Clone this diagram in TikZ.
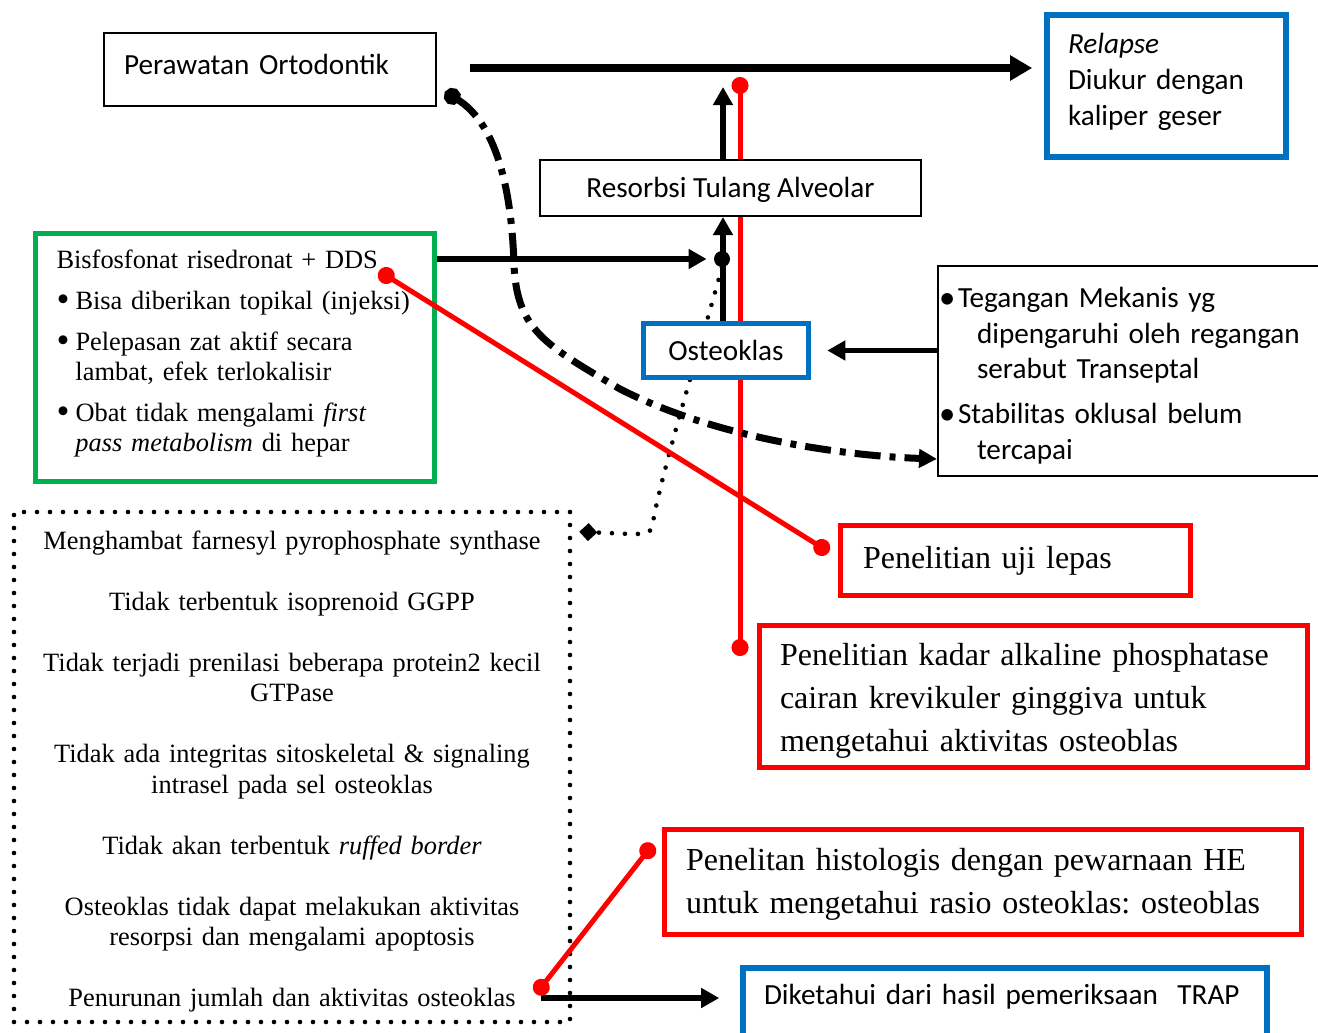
\documentclass[tikz,border=0pt]{standalone}
\usepackage{fontspec}
\setmainfont{Liberation Serif}
\setsansfont{Carlito}
\usetikzlibrary{arrows.meta,calc,backgrounds}

\definecolor{boxblue}{HTML}{0070C0}
\definecolor{boxgreen}{HTML}{00B050}
\definecolor{boxred}{HTML}{FF0000}

\newcommand{\bigbul}{\raisebox{-0.9pt}{\scalebox{1.4}{\textbullet}}}
\newcommand{\sfbul}{\hspace*{-0.5pt}\raisebox{-0.4pt}{\scalebox{1.12}{\textbullet}}}

\begin{document}
\frenchspacing
\begin{tikzpicture}[x=0.5pt,y=-0.5pt,
        plainbox/.style={draw, line width=1pt, fill=white, inner ysep=0pt, font={\sffamily\fontsize{14.6}{17.75}\selectfont}},
        bluebox/.style={draw=boxblue, line width=2.8pt, fill=white, font={\sffamily\fontsize{14.6}{18}\selectfont}},
        greenbox/.style={draw=boxgreen, line width=2.5pt, fill=white},
        redbox/.style={draw=boxred, line width=2.5pt, fill=white, align=left, font={\fontsize{16}{21.5}\selectfont}},
        dotbox/.style={draw, line width=2.3pt, dash pattern=on 0pt off 6.5pt, line cap=round},
        arr/.style={line width=2.6pt, -{Triangle[length=9pt,width=9.5pt]}},
        bigarr/.style={line width=4pt, -{Triangle[length=11pt,width=12pt]}},
        redline/.style={draw=boxred, line width=2.5pt, {Circle[length=8.5pt]}-{Circle[length=8.5pt]}},
        dashdot/.style={line width=3.5pt, dash pattern=on 13pt off 4.5pt on 3pt off 4.5pt, {Circle[length=8.5pt]}-{Triangle[length=9pt,width=9pt]}},
        dotline/.style={line width=2.3pt, dash pattern=on 0pt off 6.5pt, line cap=round, -{Diamond[length=9pt,width=9pt]}}
    ]

        \useasboundingbox (0,0) rectangle (1318,1033);

        % Boxes
        \node[plainbox, minimum width=166pt, text width=146pt, inner xsep=10pt, text height=20.5pt, text depth=16pt, align=left] (perawatan) at (270,69.5) {Perawatan Ortodontik};
        \node[bluebox, minimum width=119.5pt, minimum height=71pt, text width=98.5pt, inner xsep=10.5pt, align=left] (relapse) at (1166.5,86) {\textit{Relapse}\\Diukur dengan\\kaliper geser\rule[-7pt]{0pt}{7pt}};
        \node[plainbox, minimum width=190.5pt, minimum height=28pt, align=center] (resorbsi) at (730.5,188) {\rule{0pt}{12.5pt}Resorbsi Tulang Alveolar};
        \node[bluebox, minimum width=82.5pt, minimum height=27pt, inner sep=0pt] (osteo) at (726,350.5) {Osteoklas};
        \node[circle, fill, inner sep=0pt, minimum size=8pt] (bisdot) at (722,259) {};

        \node[greenbox, minimum width=199.5pt, minimum height=124pt, text width=178.5pt, inner xsep=10.5pt, align=left, font={\fontsize{13.2}{15}\selectfont}] (green) at (235,357.5) {%
            Bisfosfonat risedronat + DDS\\[5.5pt]
            \makebox[9.5pt][l]{\bigbul}Bisa diberikan topikal (injeksi)\\[5.5pt]
            \makebox[9.5pt][l]{\bigbul}Pelepasan zat aktif secara\\
            \hspace*{9.5pt}lambat, efek terlokalisir\\[5.5pt]
            \makebox[9.5pt][l]{\bigbul}Obat tidak mengalami \textit{first}\\
            \hspace*{9.5pt}\textit{pass metabolism} di hepar\rule[-7pt]{0pt}{7pt}};

        \node[plainbox, minimum width=200pt, minimum height=105pt, text width=198pt, inner xsep=1pt, align=left] (rightbox) at (1138,371) {%
            \makebox[9pt][l]{\sfbul}\rule{0pt}{15pt}Tegangan Mekanis yg\\
            \hspace*{18.5pt}dipengaruhi oleh regangan\\
            \hspace*{18.5pt}serabut Transeptal\\[4.75pt]
            \makebox[9pt][l]{\sfbul}Stabilitas oklusal belum\\
            \hspace*{18.5pt}tercapai};

        \node[dotbox, minimum width=278pt, minimum height=255pt, text width=262pt, align=center, font={\fontsize{13.2}{15.25}\selectfont}] (mech) at (292,767) {%
            \rule{0pt}{14pt}Menghambat farnesyl pyrophosphate synthase\\[15.25pt]
            Tidak terbentuk isoprenoid GGPP\\[15.25pt]
            Tidak terjadi prenilasi beberapa protein2 kecil\\
            GTPase\\[15.25pt]
            Tidak ada integritas sitoskeletal \& signaling\\
            intrasel pada sel osteoklas\\[15.25pt]
            Tidak akan terbentuk \textit{ruffed border}\\[15.25pt]
            Osteoklas tidak dapat melakukan aktivitas\\
            resorpsi dan mengalami apoptosis\\[15.25pt]
            Penurunan jumlah dan aktivitas osteoklas};

        % Research boxes
        \node[redbox, minimum width=175pt, minimum height=35pt, text width=152.5pt, inner xsep=11.25pt] (uji) at (1015.5,560.5) {Penelitian uji lepas};
        \node[redbox, minimum width=274pt, minimum height=71pt, text width=253.5pt, inner xsep=10.25pt] (kadar) at (1033.5,696.5) {\rule{0pt}{15pt}Penelitian kadar alkaline phosphatase\\cairan krevikuler ginggiva untuk\\mengetahui aktivitas osteoblas};
        \node[redbox, minimum width=318.5pt, minimum height=52.5pt, text width=297pt, inner xsep=10.75pt] (histo) at (983,882) {\rule{0pt}{13pt}Penelitan histologis dengan pewarnaan HE\\untuk mengetahui rasio osteoklas: osteoblas};
        \node[bluebox, minimum width=262pt, text width=241pt, inner xsep=10.5pt, inner ysep=0pt, text height=18pt, text depth=33pt, align=left] (trap) at (1005,1019) {Diketahui dari hasil pemeriksaan~ TRAP};

        % Free ends
        \coordinate (topstart) at (470,68);
        \coordinate (uptip) at (723,87);
        \coordinate (rtop) at (740,77);
        \coordinate (rbot) at (740,656);
        \coordinate (ddsdot) at (379,271);
        \coordinate (ujidot) at (829,552);
        \coordinate (penstart) at (541,998);
        \coordinate (penred) at (536,994);
        \coordinate (hedot) at (653,844);
        \coordinate (pdot) at ($(perawatan.south east)+(8,-15)$);
        \coordinate (ddend) at ($(rightbox.south west)+(0,-18)$);
        \coordinate (dmd) at ($(mech.north east)+(7,22)$);

        % Lines behind the boxes
        \begin{scope}[on background layer]
            \draw[redline] (rtop) -- (rbot);
            \draw[dotline] (bisdot.south) .. controls (705,330) and (662,470) .. (653,522) .. controls (650,534) .. (630,534) -- (dmd);
        \end{scope}

        % Arrows
        \draw[bigarr] (topstart) -- ($(topstart -| relapse.west)+(-12,0)$);
        \draw[arr] (resorbsi.north -| uptip) -- (uptip);
        \draw[arr] (osteo.north -| uptip) -- (resorbsi.south -| uptip);
        \draw[arr, shorten >=3.5pt] (green.east |- bisdot) -- (bisdot.west);
        \draw[arr, shorten >=8pt] (rightbox.west |- osteo.east) -- (osteo.east);
        \draw[arr, shorten >=10.5pt] (penstart) -- (trap.west |- penstart);
        \draw[dashdot] (pdot) .. controls (500,125) and (512,200) .. (514,265) .. controls (517,330) and (545,345) .. (620,389) .. controls (720,440) and (850,456) .. (ddend);

        % Red links
        \draw[redline] (ddsdot) -- (ujidot);
        \draw[redline] (penred) -- (hedot);

    \end{tikzpicture}
\end{document}
